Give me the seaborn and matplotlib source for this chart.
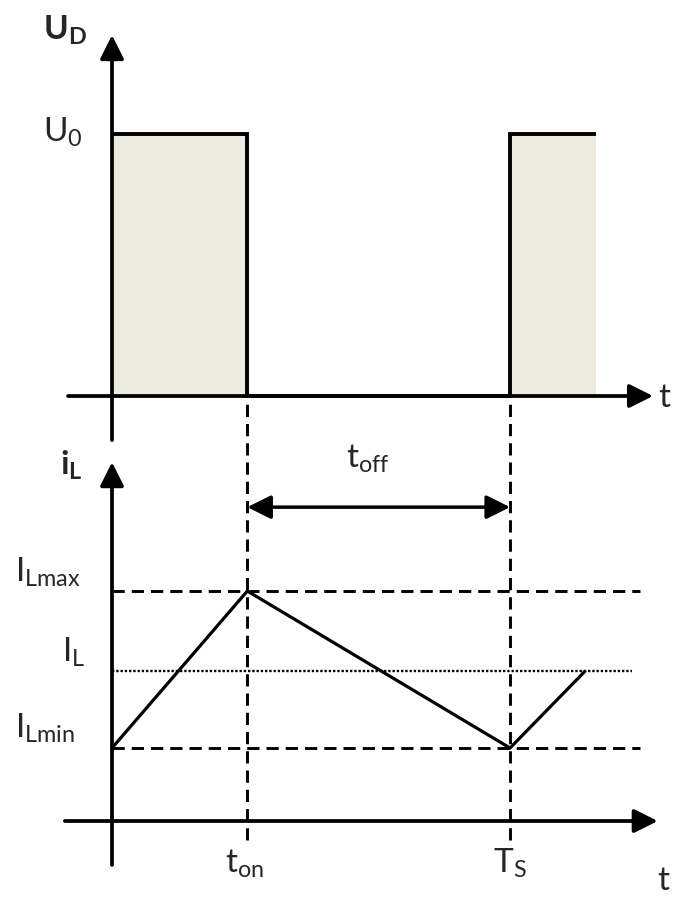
import numpy as np
import pandas as pd
import matplotlib
matplotlib.use("Agg")
import matplotlib.pyplot as plt
import seaborn as sns

# data (time in units of T_S)
t_on = 0.34
T_s = 1.0
t_stop = 1.216

U0 = 1.0
volt_t = [0, t_on, t_on, T_s, T_s, t_stop]
volt_u = [U0, U0, 0, 0, U0, U0]

I_Lmin = 1.0
I_Lmax = 3.15
I_L = 2.05
cur_t = [0, t_on, T_s, 1.188]
cur_i = [I_Lmin, I_Lmax, I_Lmin, I_L]

sns.set_theme(style="white")
plt.rcParams["font.family"] = ["Lato", "DejaVu Sans"]
plt.rcParams["mathtext.fontset"] = "custom"
plt.rcParams["mathtext.rm"] = "Lato"
plt.rcParams["mathtext.it"] = "Lato"
plt.rcParams["mathtext.bf"] = "Lato:bold"

fig = plt.figure(figsize=(6.76, 9), dpi=100)
ax1 = fig.add_axes([0, 0.5, 1, 0.5])
ax2 = fig.add_axes([0, 0, 1, 0.5])
for ax in (ax1, ax2):
    ax.set_xlim(-0.2814, 1.417)
    ax.axis("off")
ax1.set_ylim(-0.206, 1.511)
ax2.set_ylim(-1.082, 5.082)

black = "black"
fs = 24
axis_arrow = dict(arrowstyle="-|>,head_length=0.4,head_width=0.2", mutation_scale=36,
                  lw=2.7, color=black, shrinkA=0, shrinkB=0)
dash = (0, (4.2, 2.4))

#--- top: U_D
ax1.fill_between(volt_t, 0, volt_u, color="#EDEAE0", lw=0, zorder=1)
df_u = pd.DataFrame({"t": volt_t, "u": volt_u})
sns.lineplot(data=df_u, x="t", y="u", ax=ax1, sort=False, estimator=None,
             color=black, lw=2.8, zorder=3)
for l in ax1.lines:
    l.set_solid_joinstyle("miter")
    l.set_solid_capstyle("butt")

ax1.annotate("", xy=(0, 0.922), xytext=(0, 0.022), xycoords=("data", "axes fraction"),
             arrowprops=axis_arrow, zorder=4)
ax1.annotate("", xy=(0.966, 0), xytext=(0.1006, 0), xycoords=("axes fraction", "data"),
             arrowprops=axis_arrow, zorder=4)

ax1.annotate(r"$\mathbf{U_D}$", xy=(0, 0.922), xycoords=("data", "axes fraction"),
             xytext=(-69, -5), textcoords="offset pixels", ha="left", va="baseline",
             fontsize=fs, annotation_clip=False)
ax1.annotate(r"$\mathrm{U_0}$", xy=(0, U0), xytext=(-69, -8), textcoords="offset pixels",
             ha="left", va="baseline", fontsize=fs, annotation_clip=False)
ax1.annotate("t", xy=(0.966, 0), xycoords=("axes fraction", "data"), xytext=(11, -11),
             textcoords="offset pixels", ha="center", va="baseline", fontsize=fs,
             annotation_clip=False)

#--- bottom: i_L
for lvl, ls, lw, xmax in [(I_Lmax, dash, 2.1, 0.947), (I_Lmin, dash, 2.1, 0.947),
                          (I_L, (0, (1.0, 0.8)), 1.7, 0.935)]:
    ax2.axhline(lvl, xmin=0.1657, xmax=xmax, color=black, ls=ls, lw=lw, zorder=2)
for tv in (t_on, T_s):
    ax2.axvline(tv, ymin=0.133, ymax=1.12, color=black, ls=dash, lw=2.1,
                clip_on=False, zorder=2)

df_i = pd.DataFrame({"t": cur_t, "i": cur_i})
sns.lineplot(data=df_i, x="t", y="i", ax=ax2, sort=False, estimator=None,
             color=black, lw=2.3, zorder=3)

ax2.annotate("", xy=(0, 0.973), xytext=(0, 0.078), xycoords=("data", "axes fraction"),
             arrowprops=axis_arrow, zorder=4)
ax2.annotate("", xy=(0.973, 0), xytext=(0.096, 0), xycoords=("axes fraction", "data"),
             arrowprops=axis_arrow, zorder=4)
ax2.annotate("", xy=(T_s, 0.873), xytext=(t_on, 0.873), xycoords=("data", "axes fraction"),
             arrowprops=dict(arrowstyle="<|-|>,head_length=0.4,head_width=0.2",
                             mutation_scale=36, lw=2.5, color=black,
                             shrinkA=0, shrinkB=0), zorder=4)

ax2.annotate(r"$\mathbf{i_L}$", xy=(0, 0.973), xycoords=("data", "axes fraction"),
             xytext=(-52, -13), textcoords="offset pixels", ha="left", va="baseline",
             fontsize=fs, annotation_clip=False)
labels = [(r"$\mathrm{I_{Lmax}}$", I_Lmax, (-97, 9)),
          (r"$\mathrm{I_L}$", I_L, (-50, 9)),
          (r"$\mathrm{I_{Lmin}}$", I_Lmin, (-97, 10))]
for txt, lvl, off in labels:
    ax2.annotate(txt, xy=(0, lvl), xytext=off, textcoords="offset pixels",
                 ha="left", va="baseline", fontsize=fs, annotation_clip=False)
ax2.annotate(r"$\mathrm{t_{on}}$", xy=(t_on, 0), xytext=(-3, -52), textcoords="offset pixels",
             ha="center", va="baseline", fontsize=fs, annotation_clip=False)
ax2.annotate(r"$\mathrm{T_S}$", xy=(T_s, 0), xytext=(0, -52), textcoords="offset pixels",
             ha="center", va="baseline", fontsize=fs, annotation_clip=False)
ax2.annotate("t", xy=(0.973, 0), xycoords=("axes fraction", "data"), xytext=(6, -69),
             textcoords="offset pixels", ha="center", va="baseline", fontsize=fs,
             annotation_clip=False)
ax2.annotate(r"$\mathrm{t_{off}}$", xy=((t_on + T_s) / 2, 0.873),
             xycoords=("data", "axes fraction"), xytext=(-11, 39),
             textcoords="offset pixels", ha="center", va="baseline", fontsize=fs,
             annotation_clip=False)

fig.savefig("out.png", dpi=100)
